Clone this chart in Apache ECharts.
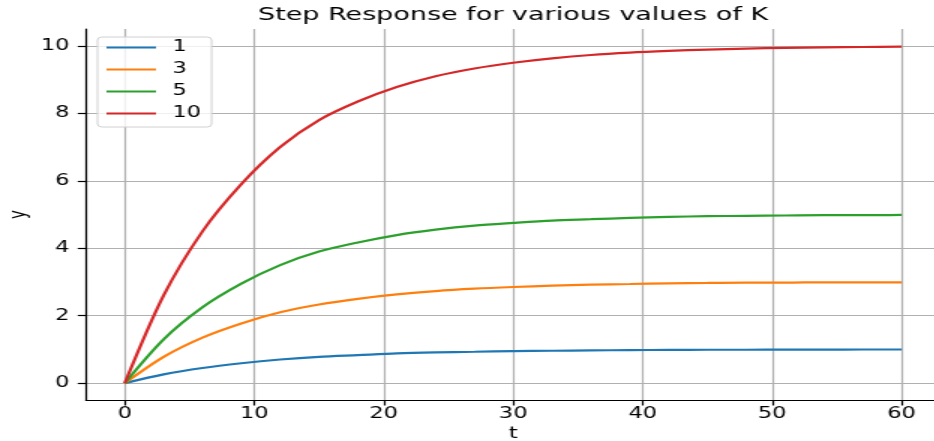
<!DOCTYPE html>
<html>
<head>
<meta charset="utf-8">
<script src="https://cdn.jsdelivr.net/npm/echarts@6/dist/echarts.min.js"></script>
<style>
  html, body { margin: 0; padding: 0; overflow: hidden; background: #fff; }
  /* the reference picture is stretched sideways, so the chart is drawn narrow and scaled */
  #main {
    width: 622.67px;
    height: 441px;
    transform: scaleX(1.5);
    transform-origin: 0 0;
  }
</style>
</head>
<body>
<div id="main"></div>
<script>
var tValues = [0, 3, 6, 9, 12, 15, 18, 21, 24, 27, 30, 33, 36, 39, 42, 45, 48, 51, 54, 57, 60];
var k1 = [0, 0.26, 0.45, 0.59, 0.7, 0.78, 0.83, 0.88, 0.91, 0.93, 0.95, 0.96, 0.97, 0.98, 0.985, 0.99, 0.99, 0.995, 0.995, 0.997, 0.998];
var k3 = [0, 0.78, 1.35, 1.77, 2.1, 2.33, 2.5, 2.63, 2.73, 2.8, 2.85, 2.89, 2.92, 2.94, 2.96, 2.97, 2.98, 2.98, 2.99, 2.99, 2.99];
var k5 = [0, 1.3, 2.25, 2.95, 3.5, 3.9, 4.17, 4.39, 4.55, 4.67, 4.75, 4.82, 4.86, 4.9, 4.93, 4.95, 4.96, 4.97, 4.98, 4.98, 4.99];
var k10 = [0, 2.6, 4.5, 5.9, 7.0, 7.8, 8.35, 8.78, 9.1, 9.33, 9.5, 9.63, 9.73, 9.8, 9.85, 9.89, 9.92, 9.94, 9.955, 9.967, 9.975];
var seriesNames = ["1", "3", "5", "10"];
var colors = ["#1f77b4", "#ff7f0e", "#2ca02c", "#d62728"];
var xTicks = [0, 10, 20, 30, 40, 50, 60];
var yTicks = [0, 2, 4, 6, 8, 10];

var font = "DejaVu Sans";

function pairs(ys) {
  return tValues.map(function (t, i) {
    return [t, ys[i]];
  });
}

var myChart = echarts.init(document.getElementById("main"));
var option = {
  animation: false,
  textStyle: { fontFamily: font },
  title: {
    text: "Step Response for various values of K",
    left: 342,
    top: 6,
    padding: 0,
    textAlign: "center",
    textStyle: { fontFamily: font, fontSize: 18, fontWeight: "normal", color: "#000" },
  },
  legend: {
    orient: "vertical",
    left: 65,
    top: 37,
    padding: [3, 7, 6, 5],
    itemWidth: 33,
    itemHeight: 14,
    itemGap: 7,
    backgroundColor: "rgba(255,255,255,0.8)",
    borderColor: "#d0d0d0",
    borderWidth: 1,
    borderRadius: 3,
    data: seriesNames,
    itemStyle: { opacity: 0 },
    textStyle: { fontFamily: font, fontSize: 15, color: "#000", padding: [0, 0, 0, 6] },
  },
  grid: {
    left: 57.3,
    right: -4,
    top: 29,
    bottom: 41,
    containLabel: false,
    outerBoundsMode: "none",
  },
  xAxis: {
    type: "value",
    min: -3,
    max: 63,
    name: "t",
    nameLocation: "middle",
    nameGap: 27,
    nameMoveOverlap: false,
    nameTextStyle: { fontFamily: font, fontSize: 15, color: "#000" },
    axisLine: { show: true, onZero: false, lineStyle: { color: "#000", width: 1.2 } },
    axisTick: { show: true, length: 5.5, customValues: xTicks, lineStyle: { color: "#000", width: 1.2 } },
    axisLabel: { customValues: xTicks, margin: 7, fontFamily: font, fontSize: 15, color: "#000" },
    splitLine: { show: true, lineStyle: { color: "#b0b0b0", width: 1.2 } },
  },
  yAxis: {
    type: "value",
    min: -0.5,
    max: 10.5,
    name: "y",
    nameLocation: "middle",
    nameGap: 37,
    nameMoveOverlap: false,
    nameTextStyle: { fontFamily: font, fontSize: 15, color: "#000" },
    axisLine: { show: true, onZero: false, lineStyle: { color: "#000", width: 1.2 } },
    axisTick: { show: true, length: 5.5, customValues: yTicks, lineStyle: { color: "#000", width: 1.2 } },
    axisLabel: { customValues: yTicks, margin: 11, fontFamily: font, fontSize: 15, color: "#000" },
    splitLine: { show: true, lineStyle: { color: "#b0b0b0", width: 1.2 } },
  },
  series: [k1, k3, k5, k10].map(function (ys, i) {
    return {
      name: seriesNames[i],
      type: "line",
      data: pairs(ys),
      smooth: 0.3,
      symbol: "none",
      color: colors[i],
      lineStyle: { color: colors[i], width: 2.2 },
    };
  }),
};
myChart.setOption(option);
</script>
</body>
</html>
